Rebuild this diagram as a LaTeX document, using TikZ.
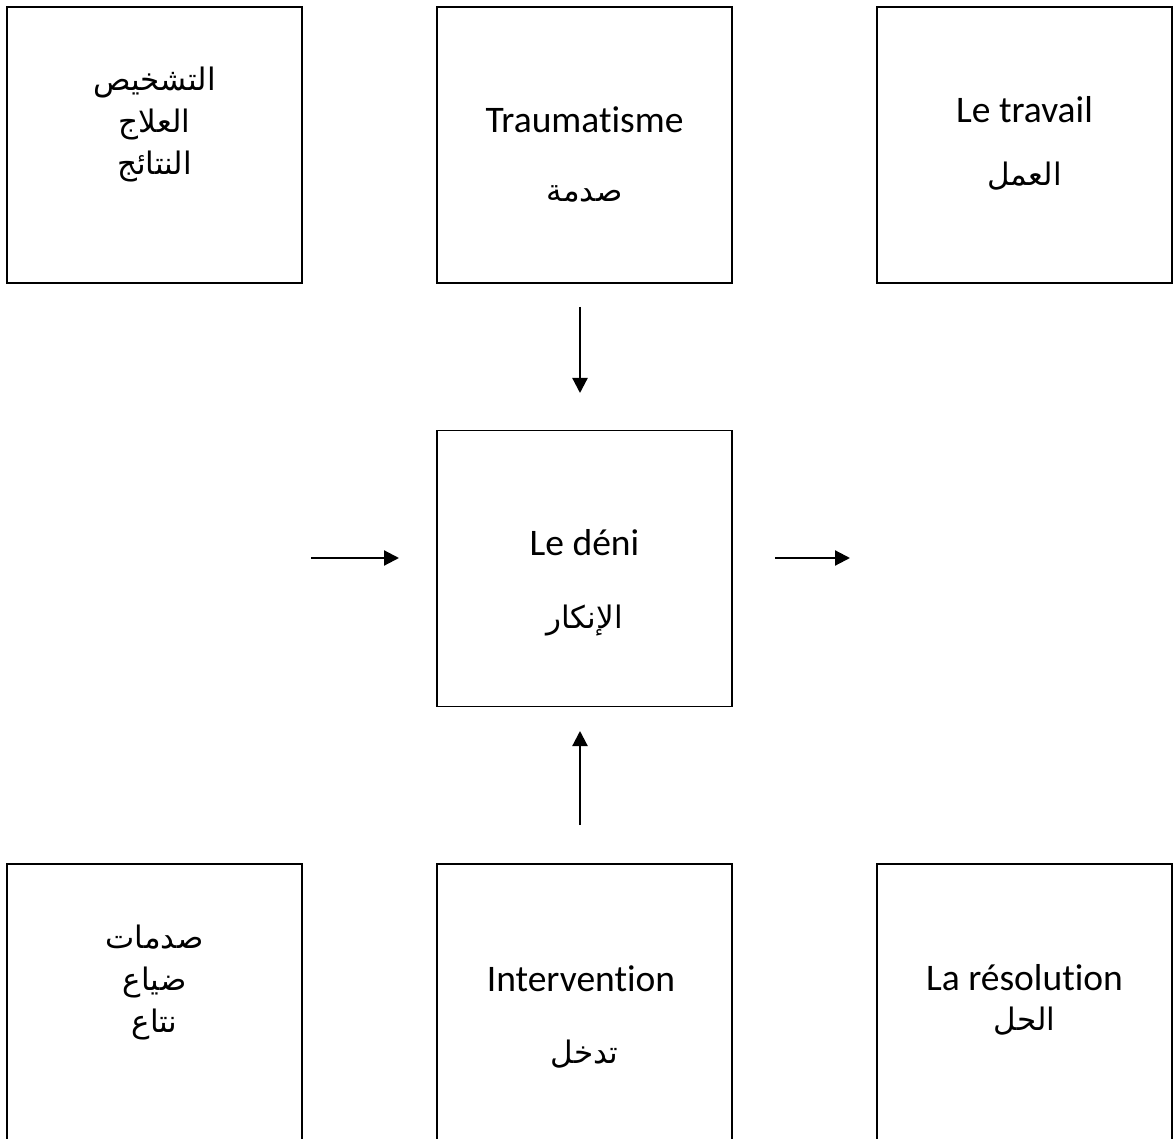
\documentclass[tikz,border=0pt]{standalone}
\usepackage{fontspec}
\setmainfont{Carlito}[Ligatures=NoCommon]
\newfontfamily\arabicfont[Script=Arabic]{DejaVu Sans}
\TeXXeTstate=1
\usetikzlibrary{arrows.meta}
\newcommand{\rtl}[1]{\beginR #1\endR}

\begin{document}
\begin{tikzpicture}[x=1pt,y=-1pt,
    box/.style={draw,line width=1.7pt,minimum width=295pt,minimum height=276pt,inner sep=0pt},
    lat/.style={anchor=base,inner sep=0pt,font=\fontsize{37.5}{44}\selectfont},
    arb/.style={anchor=base,inner sep=0pt,font=\fontsize{31}{40}\selectfont\arabicfont},
    arr/.style={line width=2.2pt,-{Triangle[width=15pt,length=15pt]}}]
  \useasboundingbox (0,0) rectangle (1176,1139);
  % boxes
  \node (tl) at (154.5,145) [box] {};
  \node (tc) at (584.5,145) [box] {};
  \node (tr) at (1024.5,145) [box] {};
  \node (mid) at (584.5,568.5) [box] {};
  \node (bl) at (154.5,1004) [box,minimum height=280pt] {};
  \node (bc) at (584.5,1004) [box,minimum height=280pt] {};
  \node (br) at (1024.5,1004) [box,minimum height=280pt] {};
  % texts
  \node (tlA) at (154.5,91) [arb] {\rtl{التشخيص}};
  \node (tlB) at (154.5,133) [arb] {\rtl{العلاج}};
  \node (tlC) at (154.5,175) [arb] {\rtl{النتائج}};
  \node (tcA) at (584.5,133) [lat] {Traumatisme};
  \node (tcB) at (584.5,202) [arb] {\rtl{صدمة}};
  \node (trA) at (1024.5,123) [lat] {Le travail};
  \node (trB) at (1024.5,186) [arb] {\rtl{العمل}};
  \node (midA) at (584.5,555) [lat] {Le déni};
  \node (midB) at (584.5,628) [arb] {\rtl{الإنكار}};
  \node (blA) at (154.5,948) [arb] {\rtl{صدمات}};
  \node (blB) at (154.5,990) [arb] {\rtl{ضياع}};
  \node (blC) at (154.5,1032) [arb] {\rtl{نتاع}};
  \node (bcA) at (581,991) [lat] {Intervention};
  \node (bcB) at (584.5,1063) [arb] {\rtl{تدخل}};
  \node (brA) at (1024.5,990) [lat] {La résolution};
  \node (brB) at (1024.5,1030) [arb] {\rtl{الحل}};
  % arrows
  \coordinate (dnS) at (580,307);
  \coordinate (dnE) at (580,393);
  \coordinate (upS) at (580,825);
  \coordinate (upE) at (580,731);
  \coordinate (ltS) at (311,558);
  \coordinate (ltE) at (399,558);
  \coordinate (rtS) at (775,558);
  \coordinate (rtE) at (850,558);
  \draw [arr] (dnS) -- (dnE);
  \draw [arr] (upS) -- (upE);
  \draw [arr] (ltS) -- (ltE);
  \draw [arr] (rtS) -- (rtE);
\end{tikzpicture}
\end{document}
